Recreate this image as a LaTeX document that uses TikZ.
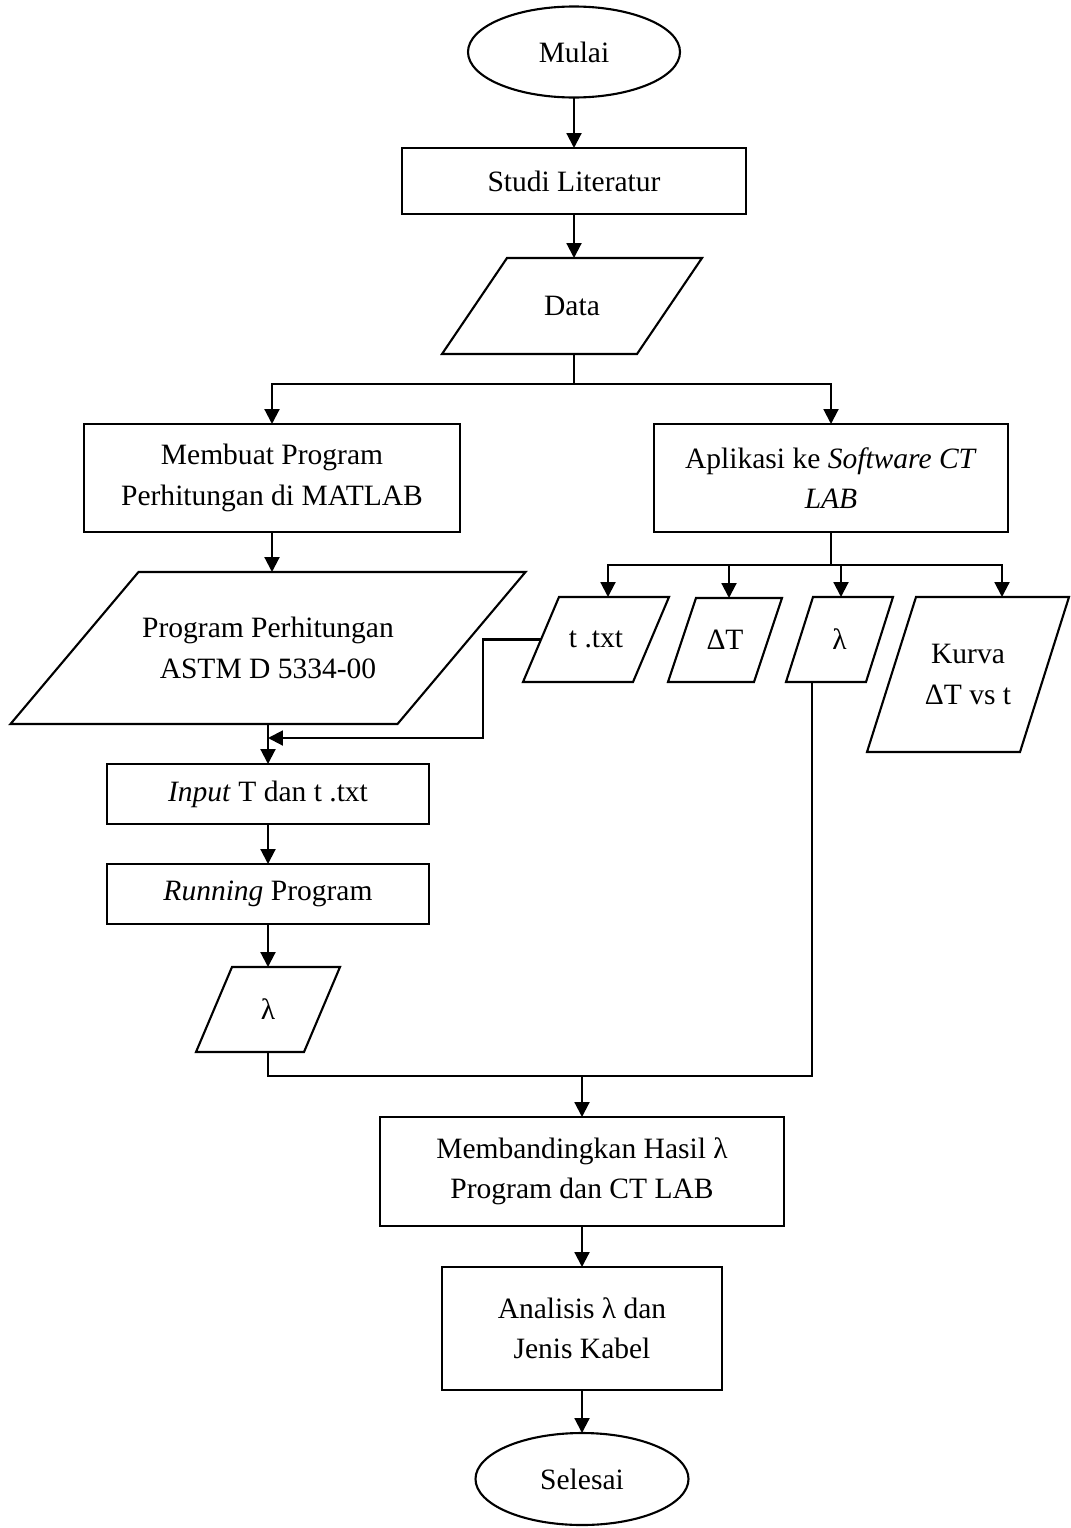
\documentclass[tikz,border=0pt]{standalone}
\usepackage{fontspec}
\setmainfont{Liberation Serif}
\usetikzlibrary{calc,shapes.geometric,arrows.meta}

\begin{document}
\begin{tikzpicture}[x=0.02cm,y=-0.02cm,line width=1.2pt,
    every node/.style={font=\fontsize{16.8}{23}\selectfont,align=center,inner sep=0pt,outer sep=0pt},
    wh/.style 2 args={minimum width=#1*0.02cm,minimum height=#2*0.02cm},
    box/.style={draw,rectangle},
    io/.style={rectangle},
    term/.style={draw,ellipse},
    arr/.style={-{Triangle[length=8.5pt,width=8.5pt]}}]
    \useasboundingbox (0,0) rectangle (1071,1528);

    % main column
    \node[term, wh={212}{91}] (mulai) at (574,52) {Mulai};
    \node[box, wh={344}{66}] (studi) at (574,181) {Studi Literatur};
    \node[io, wh={260}{96}] (data) at (572,306) {Data};

    % left branch: matlab
    \node[box, wh={376}{108}] (membuat) at (272,478) {Membuat Program\\Perhitungan di MATLAB};
    \node[io, wh={515}{152}] (prog) at (268,648) {Program Perhitungan\\ASTM D 5334-00};
    \node[box, wh={322}{60}] (input) at (268,794) {\textit{Input} T dan t .txt};
    \node[box, wh={322}{60}] (running) at (268,894) {\textit{Running} Program};
    \node[io, wh={144}{85}] (lamprog) at (268,1009.5) {λ};

    % right branch: ct lab
    \node[box, wh={354}{108}] (aplikasi) at (831,478) {Aplikasi ke \textit{Software CT}\\\textit{LAB}};
    \node[io, wh={146}{85}] (ttxt) at (596,639.5) {t .txt};
    \node[io, wh={114}{84}] (dT) at (725,640) {ΔT};
    \node[io, wh={107}{85}] (lamct) at (839.5,639.5) {λ};
    \node[io, wh={202}{155}] (kurva) at (968,674.5) {Kurva\\ΔT vs t};

    % end
    \node[box, wh={404}{109}] (banding) at (582,1171.5) {Membandingkan Hasil λ\\Program dan CT LAB};
    \node[box, wh={280}{123}] (analisis) at (582,1328.5) {Analisis λ dan\\Jenis Kabel};
    \node[term, wh={213}{92}] (selesai) at (582,1479) {Selesai};

    % parallelogram outlines
    \foreach \n/\o in {data/65, prog/128, lamprog/36, ttxt/36, dT/28, lamct/27, kurva/49}
      \draw ($(\n.north west)+(\o,0)$) -- (\n.north east) -- ($(\n.south east)-(\o,0)$) -- (\n.south west) -- cycle;

    \draw[arr] (mulai.south) -- (studi.north);
    \draw[arr] (studi.south) -- (studi.south |- data.north);
    \draw[arr] (data.south -| studi.south) -- ++(0,30) -| (membuat.north);
    \draw[arr] (data.south -| studi.south) -- ++(0,30) -| (aplikasi.north);

    \draw[arr] (membuat.south) -- (membuat.south |- prog.north);
    \draw[arr] (prog.south) -- (input.north);
    \coordinate (tin) at ($(prog.south)!0.35!(input.north)$);
    \draw[arr] ($(ttxt.west)+(18,0)$) -| ($(tin)+(215,0)$) -- (tin);
    \draw[arr] (input.south) -- (running.north);
    \draw[arr] (running.south) -- (lamprog.north);

    \foreach \n/\x in {ttxt/608, dT/729, lamct/841, kurva/1002}
      \draw[arr] (aplikasi.south) -- ++(0,33) -| (\n.north -| \x,0);

    \coordinate (merge) at ($(banding.north)+(0,-41)$);
    \coordinate (lamout) at ($(lamct.south)+(-27.5,0)$);
    \draw (lamprog.south) |- (merge -| lamout) -- (lamout);
    \draw[arr] (merge) -- (banding.north);
    \draw[arr] (banding.south) -- (analisis.north);
    \draw[arr] (analisis.south) -- (selesai.north);
\end{tikzpicture}
\end{document}
